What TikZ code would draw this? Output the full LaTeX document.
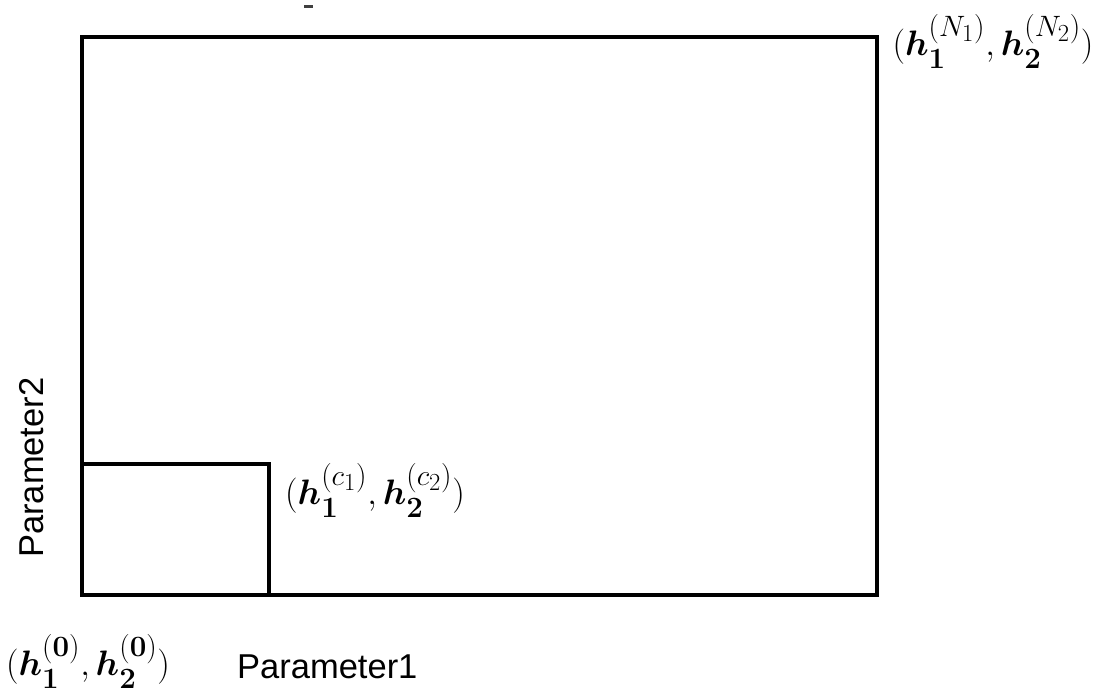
\documentclass[tikz,border=0pt]{standalone}
\usepackage{amsmath,bm}
\usepackage[no-math]{fontspec}
\setmainfont{Liberation Sans}
\begin{document}
\begin{tikzpicture}[x=1pt,y=-1pt,
  box/.style={line width=3.6pt, line join=miter},
  lbl/.style={font=\fontsize{34.5}{40}\selectfont, inner sep=0pt},
  mlbl/.style={font=\Huge, inner sep=0pt, scale=1.42}]
\useasboundingbox (0,0) rectangle (1103,694);
\coordinate (O) at (82,595);
\coordinate (T) at (877,37);
\coordinate (C) at (269,464);
\draw[box] (O) rectangle (T);
\draw[box] (O |- C) -- (C) -- (C |- O);
\fill[black!75] (304,5) rectangle (313,8);
\node[mlbl] (lN) at (993,41) {$(\bm{h}_{\mathbf{1}}^{(N_1)},\bm{h}_{\mathbf{2}}^{(N_2)})$};
\node[mlbl] (lc) at (375,490) {$(\bm{h}_{\mathbf{1}}^{(c_1)},\bm{h}_{\mathbf{2}}^{(c_2)})$};
\node[mlbl] (l0) at (88,661) {$(\bm{h}_{\mathbf{1}}^{(\mathbf{0})},\bm{h}_{\mathbf{2}}^{(\mathbf{0})})$};
\node[lbl, anchor=base west] (p1) at (237,678) {Parameter1};
\node[lbl, rotate=90, anchor=base west] (p2) at (43,558) {Parameter2};
\end{tikzpicture}
\end{document}
